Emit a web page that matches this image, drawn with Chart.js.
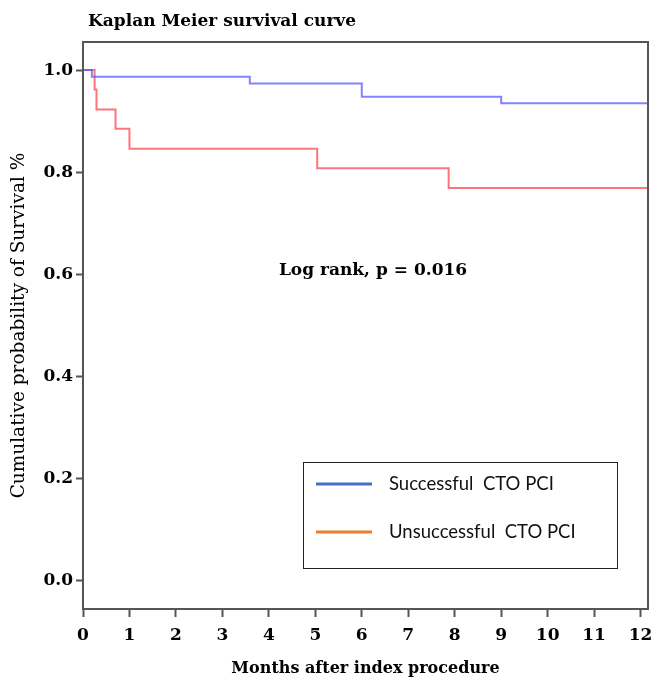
<!DOCTYPE html>
<html>
<head>
<meta charset="utf-8">
<script src="https://cdn.jsdelivr.net/npm/chart.js@4/dist/chart.umd.min.js"></script>
<style>
html,body{margin:0;padding:0;background:#fff;}
#wrap{width:652px;height:678px;position:relative;}
</style>
</head>
<body>
<div id="wrap"><canvas id="c" width="652" height="678"></canvas></div>
<script>
// ---- data ----
const seriesNames = ["Successful  CTO PCI", "Unsuccessful  CTO PCI"];
const successTimes = [0, 0.19, 3.59, 6.0, 9.0, 12.16];
const successSurvival = [1.0, 0.987, 0.974, 0.948, 0.935, 0.935];
const failTimes = [0, 0.25, 0.29, 0.70, 1.0, 5.04, 7.87, 12.16];
const failSurvival = [1.0, 0.962, 0.923, 0.885, 0.846, 0.808, 0.769, 0.769];
const xTickValues = [0,1,2,3,4,5,6,7,8,9,10,11,12];
const yTickValues = [0.0,0.2,0.4,0.6,0.8,1.0];
const chartTitle = "Kaplan Meier survival curve";
const xTitle = "Months after index procedure";
const yTitle = "Cumulative probability of Survival %";
const annotationText = "Log rank, p = 0.016";

const toPts = (xs, ys) => xs.map((x,i)=>({x:x, y:ys[i]}));
const serif = "'DejaVu Serif', serif";

const overlay = {
  id:'overlay',
  afterDraw(chart){
    const ctx = chart.ctx, a = chart.chartArea;
    ctx.save();
    // frame
    ctx.strokeStyle = '#555'; ctx.lineWidth = 2;
    ctx.strokeRect(a.left, a.top, a.right - a.left, a.bottom - a.top);
    // title
    ctx.fillStyle = '#000';
    ctx.font = "bold 17px " + serif;
    ctx.textBaseline = 'middle'; ctx.textAlign = 'left';
    ctx.fillText(chartTitle, 88, 22);
    // annotation
    ctx.textAlign = 'center';
    ctx.font = "bold 17px " + serif;
    ctx.fillText(annotationText, 373, 271);
    // legend box
    ctx.fillStyle = '#fff';
    ctx.fillRect(303, 462, 314, 106);
    ctx.strokeStyle = '#222'; ctx.lineWidth = 1;
    ctx.strokeRect(303.5, 462.5, 314, 106);
    const cols = ['#4472C4', '#ED7D31'];
    const ys = [484, 532];
    ctx.font = "18.5px Lato, 'Open Sans', sans-serif";
    ctx.textAlign = 'left';
    chart.data.datasets.forEach((ds, i) => {
      ctx.strokeStyle = cols[i]; ctx.lineWidth = 3;
      ctx.beginPath(); ctx.moveTo(316, ys[i]); ctx.lineTo(372, ys[i]); ctx.stroke();
      ctx.fillStyle = '#111';
      ctx.fillText(ds.label, 389, ys[i]);
    });
    ctx.restore();
  }
};

new Chart(document.getElementById('c'), {
  type: 'scatter',
  data: {
    datasets: [
      { label: seriesNames[0], data: toPts(successTimes, successSurvival), showLine: true, stepped: 'before',
        borderColor: 'rgba(90,90,255,0.75)', borderWidth: 2, pointRadius: 0, fill: false },
      { label: seriesNames[1], data: toPts(failTimes, failSurvival), showLine: true, stepped: 'before',
        borderColor: 'rgba(255,70,80,0.75)', borderWidth: 2, pointRadius: 0, fill: false }
    ]
  },
  options: {
    responsive: false,
    animation: false,
    layout: { padding: { left: 0, right: 4, top: 42, bottom: 0 } },
    plugins: { legend: { display: false }, tooltip: { enabled: false }, title: { display: false } },
    scales: {
      x: {
        type: 'linear', min: 0, max: 12.16,
        afterBuildTicks: s => { s.ticks = xTickValues.map(v => ({value: v})); },
        afterFit: s => { s.height = 69; s.paddingLeft = 0; s.paddingRight = 0; },
        ticks: { color: '#000', font: { family: serif, weight: 'bold', size: 17 }, padding: 8, maxRotation: 0, autoSkip: false,
                 callback: v => String(v) },
        grid: { drawOnChartArea: false, drawTicks: true, tickLength: 8, tickColor: '#555', tickWidth: 2 },
        border: { display: true, color: '#555', width: 2 },
        title: { display: true, text: xTitle, color: '#000', font: { family: serif, weight: 'bold', size: 16 }, padding: { top: 2, bottom: 0 } }
      },
      y: {
        type: 'linear', min: -0.055, max: 1.055,
        afterBuildTicks: s => { s.ticks = yTickValues.map(v => ({value: v})); },
        afterFit: s => { s.width = 83; s.paddingTop = 0; s.paddingBottom = 0; },
        ticks: { color: '#000', font: { family: serif, weight: 'bold', size: 17 }, padding: 3,
                 callback: v => Number(v).toFixed(1) },
        grid: { drawOnChartArea: false, drawTicks: true, tickLength: 7, tickColor: '#555', tickWidth: 2 },
        border: { display: true, color: '#555', width: 2 },
        title: { display: true, text: yTitle, color: '#000', font: { family: serif, size: 18.5 }, padding: { top: 8, bottom: 0 } }
      }
    }
  },
  plugins: [overlay]
});
</script>
</body>
</html>
